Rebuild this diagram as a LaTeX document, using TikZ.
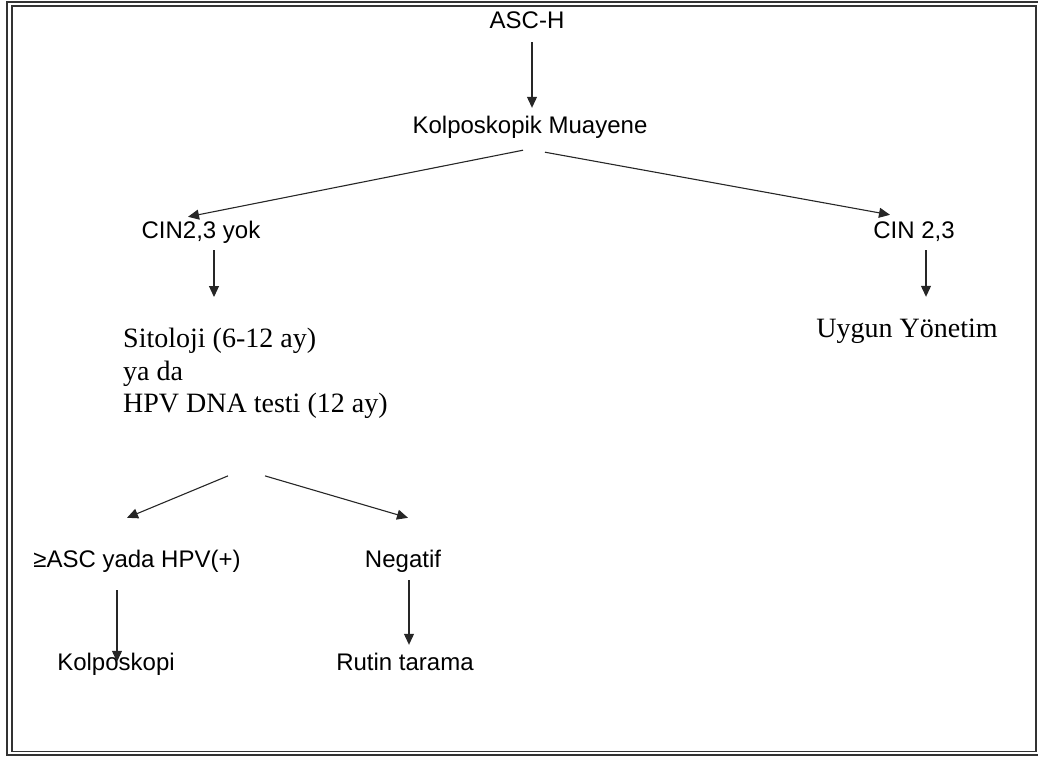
\documentclass[tikz,border=0pt]{standalone}
\usepackage{fontspec}
\setmainfont{Liberation Serif}
\newfontfamily\arialf{Liberation Sans}
\usetikzlibrary{arrows.meta}
\tikzset{
  sanslab/.style={font=\arialf\fontsize{24}{28}\selectfont, inner sep=0pt, text height=16pt, text depth=5pt, anchor=base},
  seriflab/.style={font=\fontsize{28}{32.5}\selectfont, inner sep=0pt},
  arr/.style={draw=black!85, line width=1.1pt, -{Triangle[length=11pt,width=10pt]}},
  frameout/.style={draw=black!80, line width=2.4pt},
  framein/.style={draw=black!80, line width=1.3pt}
}
\begin{document}
\begin{tikzpicture}[x=1pt,y=-1pt]
\useasboundingbox (0,0) rectangle (1038,758);
\draw[frameout] (7,2) rectangle (1040,755);
\draw[framein] (12,6) rectangle (1036,751.5);

\node[sanslab] (asch) at (527,28) {ASC-H};
\node[sanslab] (km) at (530,133) {Kolposkopik Muayene};
\node[sanslab] (cinyok) at (201,238) {CIN2,3 yok};
\node[sanslab] (cin23) at (914,238) {CIN 2,3};
\node[seriflab, anchor=north west, align=left] (sito) at (123,328) {Sitoloji (6-12 ay)\\ya da\\HPV DNA testi (12 ay)};
\node[seriflab, anchor=base, text height=19pt, text depth=6pt] (uygun) at (907,337) {Uygun Yönetim};
\node[sanslab] (geq) at (137,567) {≥ASC yada HPV(+)};
\node[sanslab] (neg) at (403,567) {Negatif};
\node[sanslab] (kolp) at (116,670) {Kolposkopi};
\node[sanslab] (rutin) at (405,670) {Rutin tarama};

\draw[arr] ([xshift=5pt,yshift=-9pt]asch.south) -- ([xshift=2pt,yshift=9pt]km.north);
\draw[arr] ([xshift=-7pt,yshift=-12pt]km.south) -- ([xshift=-13pt,yshift=5pt]cinyok.north);
\draw[arr] ([xshift=15pt,yshift=-14pt]km.south) -- ([xshift=-24pt,yshift=7pt]cin23.north);
\draw[arr] ([xshift=13pt,yshift=-7pt]cinyok.south) -- ([xshift=91pt,yshift=31pt]sito.north west);
\draw[arr] ([xshift=12pt,yshift=-7pt]cin23.south) -- ([xshift=19pt,yshift=21pt]uygun.north);
\draw[arr] ([xshift=105pt,yshift=-57pt]sito.south west) -- ([xshift=-10pt,yshift=33pt]geq.north);
\draw[arr] ([xshift=142pt,yshift=-57pt]sito.south west) -- ([xshift=5pt,yshift=33pt]neg.north);
\draw[arr] ([xshift=-20pt,yshift=-18pt]geq.south) -- ([xshift=1pt,yshift=-8pt]kolp.north);
\draw[arr] ([xshift=6pt,yshift=-8pt]neg.south) -- ([xshift=4pt,yshift=9pt]rutin.north);
\end{tikzpicture}
\end{document}
